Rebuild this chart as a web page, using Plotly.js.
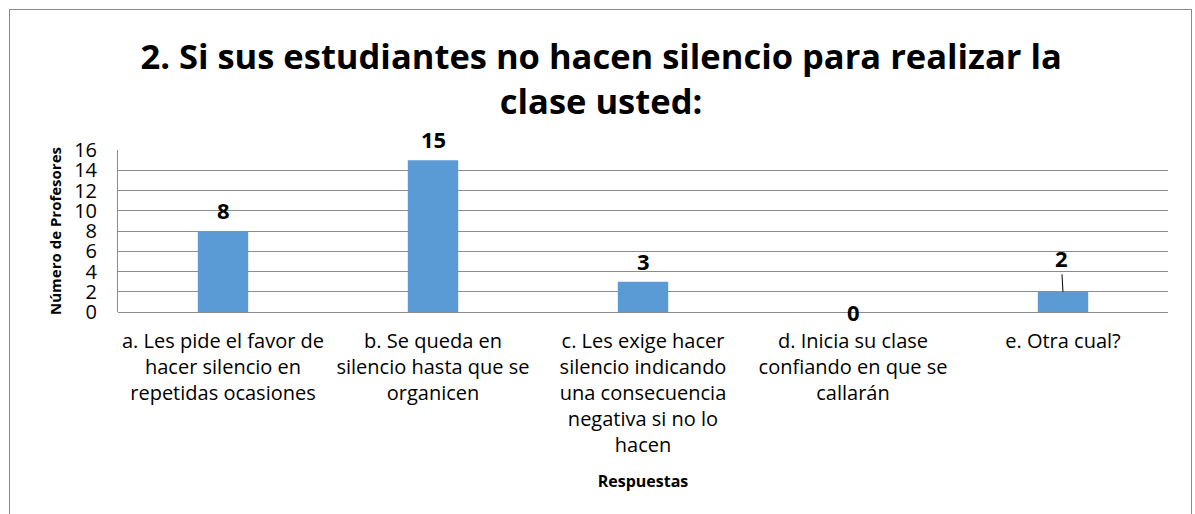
<!DOCTYPE html>
<html>
<head>
<meta charset="utf-8">
<script src="https://cdn.plot.ly/plotly-3.0.1.min.js"></script>
<style>
  html, body { margin: 0; padding: 0; background: #fff; width: 1195px; height: 514px; overflow: hidden; }
  #frame { position: absolute; left: 9px; top: 9px; width: 1183px; height: 540px; border: 1.5px solid #8a8a8a; box-sizing: border-box; }
  #chart { position: absolute; left: 0; top: 0; width: 1195px; height: 514px; }
</style>
</head>
<body>
<div id="frame"></div>
<div id="chart"></div>
<script>
const categories = [
  "a. Les pide el favor de<br>hacer silencio en<br>repetidas ocasiones",
  "b. Se queda en<br>silencio hasta que se<br>organicen",
  "c. Les exige hacer<br>silencio indicando<br>una consecuencia<br>negativa si no lo<br>hacen",
  "d. Inicia su clase<br>confiando en que se<br>callarán",
  "e. Otra cual?"
];
const values = [8, 15, 3, 0, 2];
const yTicks = [0, 2, 4, 6, 8, 10, 12, 14, 16];
const titleText = "2. Si sus estudiantes no hacen silencio para realizar la<br>clase usted:";
const xTitle = "Respuestas";
const yTitle = "Número de Profesores";

const FONT = "'Open Sans', 'Noto Sans', sans-serif";

// label placement styles (pixel offsets), one per bar
const labelShift = [4, 4, 4, null, 'leader'];

const annotations = categories.map((c, i) => {
  const mode = labelShift[i];
  const a = {
    x: c, y: values[i], xref: 'x', yref: 'y',
    text: '<b>' + values[i] + '</b>',
    showarrow: false,
    font: { family: FONT, size: 22, color: '#000' }
  };
  if (mode === 'leader') {
    a.showarrow = true; a.arrowhead = 0; a.arrowwidth = 1; a.arrowcolor = '#000';
    a.ax = -2; a.ay = -34; a.standoff = 0;
  } else if (mode === null) {
    a.yanchor = 'middle';
  } else {
    a.yanchor = 'bottom'; a.yshift = mode;
  }
  return a;
});

const trace = {
  type: 'bar',
  x: categories,
  y: values,
  marker: { color: '#5B9BD5' },
  hoverinfo: 'skip'
};

const layout = {
  width: 1195, height: 514,
  margin: { l: 118, r: 27, t: 150, b: 202 },
  paper_bgcolor: 'rgba(0,0,0,0)',
  plot_bgcolor: 'rgba(0,0,0,0)',
  bargap: 0.76,
  showlegend: false,
  title: {
    text: '<b>' + titleText + '</b>',
    font: { family: FONT, size: 34.5, color: '#000' },
    x: 0.503, xanchor: 'center', xref: 'container',
    y: 0.866, yanchor: 'top', yref: 'container'
  },
  xaxis: {
    type: 'category',
    showgrid: false, zeroline: false, showline: false,
    ticks: '',
    ticklabelstandoff: 15,
    tickfont: { family: FONT, size: 20, color: '#000' },
    title: { text: '<b>' + xTitle + '</b>', font: { family: FONT, size: 16, color: '#000' }, standoff: 18 },
    automargin: false
  },
  yaxis: {
    range: [0, 16],
    tickvals: yTicks,
    ticktext: yTicks.map(String),
    showgrid: true, gridcolor: '#8c8c8c', gridwidth: 1,
    zeroline: true, zerolinecolor: '#8c8c8c', zerolinewidth: 1,
    showline: true, linecolor: '#8c8c8c', linewidth: 1,
    ticks: '',
    ticklabelstandoff: 16,
    tickfont: { family: FONT, size: 20, color: '#000' },
    title: { text: '<b>' + yTitle + '</b>', font: { family: FONT, size: 15, color: '#000' }, standoff: 8 },
    automargin: false
  },
  annotations: annotations
};

Plotly.newPlot('chart', [trace], layout, { displayModeBar: false, staticPlot: true });
</script>
</body>
</html>
